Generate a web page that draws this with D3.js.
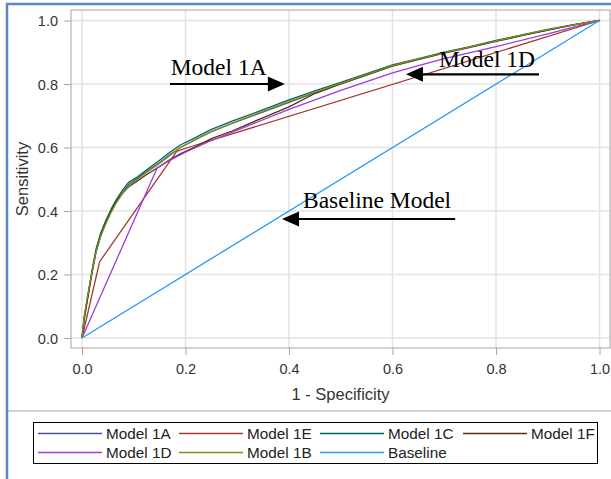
<!DOCTYPE html>
<html>
<head>
<meta charset="utf-8">
<script src="https://cdn.jsdelivr.net/npm/d3@7"></script>
<style>
  html, body { margin: 0; padding: 0; background: #ffffff; }
  svg { display: block; }
</style>
</head>
<body>
<svg id="chart" width="611" height="479"></svg>
<script>
// ROC curves: false positive rate (1 - specificity) vs sensitivity
const fpr = [0, 0.004, 0.011, 0.019, 0.027, 0.036, 0.046, 0.056, 0.066, 0.078, 0.09, 0.105, 0.125, 0.15, 0.17, 0.19, 0.22, 0.25, 0.29, 0.34, 0.4, 0.45, 0.5, 0.55, 0.6, 0.65, 0.7, 0.75, 0.8, 0.85, 0.9, 0.95, 1];
const tpr1A = [0, 0.055, 0.125, 0.2, 0.27, 0.325, 0.365, 0.4, 0.43, 0.458, 0.483, 0.5, 0.525, 0.553, 0.578, 0.6, 0.626, 0.65, 0.676, 0.706, 0.742, 0.772, 0.8, 0.828, 0.856, 0.877, 0.897, 0.915, 0.934, 0.952, 0.97, 0.986, 1];
const tpr1B = [0, 0.065, 0.135, 0.205, 0.27, 0.32, 0.36, 0.395, 0.425, 0.455, 0.478, 0.497, 0.522, 0.55, 0.575, 0.6, 0.625, 0.65, 0.677, 0.708, 0.745, 0.774, 0.802, 0.83, 0.858, 0.879, 0.899, 0.917, 0.936, 0.954, 0.971, 0.986, 1];
const tpr1C = [0, 0.06, 0.13, 0.21, 0.28, 0.33, 0.37, 0.405, 0.435, 0.465, 0.49, 0.505, 0.53, 0.56, 0.585, 0.608, 0.632, 0.657, 0.683, 0.713, 0.75, 0.778, 0.805, 0.833, 0.86, 0.88, 0.9, 0.918, 0.937, 0.955, 0.972, 0.987, 1];
const tpr1F = [0, 0.06, 0.128, 0.205, 0.272, 0.322, 0.362, 0.398, 0.428, 0.455, 0.476, 0.492, 0.515, 0.54, 0.562, 0.58, 0.603, 0.628, 0.652, 0.687, 0.728, 0.77, 0.8, 0.829, 0.857, 0.878, 0.898, 0.916, 0.935, 0.953, 0.97, 0.986, 1];

// Models with few cut points
const fpr1D = [0, 0.145, 0.17, 0.2, 0.25, 0.3, 0.4, 0.5, 0.6, 0.65, 0.7, 0.8, 0.9, 1];
const tpr1D = [0, 0.535, 0.56, 0.585, 0.622, 0.655, 0.72, 0.78, 0.835, 0.858, 0.88, 0.918, 0.958, 1];
const fpr1E = [0, 0.034, 0.183, 0.205, 1];
const tpr1E = [0, 0.24, 0.588, 0.6, 1];
const fprBase = [0, 1];
const tprBase = [0, 1];

const xTicks = [0, 0.2, 0.4, 0.6, 0.8, 1.0];
const yTicks = [0, 0.2, 0.4, 0.6, 0.8, 1.0];

// Series in draw / legend order
const seriesNames = ["Model 1A", "Model 1E", "Model 1C", "Model 1F", "Model 1D", "Model 1B", "Baseline"];
const seriesColors = ["#445694", "#A23A2E", "#01665E", "#543005", "#9D3CDB", "#7F8E1F", "#2597FA"];
const seriesX = [fpr, fpr1E, fpr, fpr, fpr1D, fpr, fprBase];
const seriesY = [tpr1A, tpr1E, tpr1C, tpr1F, tpr1D, tpr1B, tprBase];

// Callout labels (data units)
const noteText = ["Model 1A", "Model 1D", "Baseline Model"];
const noteTextPos = [[0.1714, 0.828], [0.690, 0.8545], [0.427, 0.4085]];
const noteArrowFrom = [[0.170, 0.800], [0.883, 0.8306], [0.721, 0.3748]];
const noteArrowTo = [[0.392, 0.800], [0.626, 0.8306], [0.3865, 0.3748]];

const svg = d3.select("#chart");
const sans = "'Liberation Sans', Arial, Helvetica, sans-serif";
const serif = "'Liberation Serif', 'Times New Roman', Times, serif";

const frame = { left: 71, top: 10, right: 610, bottom: 348 };
const x = d3.scaleLinear().domain([0, 1]).range([82, 599.5]);
const y = d3.scaleLinear().domain([0, 1]).range([338, 20.5]);

// outer border
svg.append("rect")
  .attr("x", 7).attr("y", 4).attr("width", 640).attr("height", 520)
  .attr("fill", "#ffffff").attr("stroke", "#5a87c5").attr("stroke-width", 2.5);

// gridlines
const grid = svg.append("g");
grid.selectAll("line.gx").data(xTicks).join("line")
  .attr("x1", d => x(d)).attr("x2", d => x(d))
  .attr("y1", frame.top).attr("y2", frame.bottom)
  .attr("stroke", "#e3e3e3").attr("stroke-width", 1.5);
grid.selectAll("line.gy").data(yTicks).join("line")
  .attr("y1", d => y(d)).attr("y2", d => y(d))
  .attr("x1", frame.left).attr("x2", frame.right)
  .attr("stroke", "#e3e3e3").attr("stroke-width", 1.5);

// plot frame
svg.append("rect")
  .attr("x", frame.left).attr("y", frame.top)
  .attr("width", frame.right - frame.left).attr("height", frame.bottom - frame.top)
  .attr("fill", "none").attr("stroke", "#a6a6a6").attr("stroke-width", 1);

// axes
const xAxis = d3.axisBottom(x).tickValues(xTicks).tickFormat(d3.format(".1f")).tickSize(7).tickSizeOuter(0);
const yAxis = d3.axisLeft(y).tickValues(yTicks).tickFormat(d3.format(".1f")).tickSize(7).tickSizeOuter(0);

const gx = svg.append("g").attr("transform", `translate(0,${frame.bottom})`).call(xAxis);
const gy = svg.append("g").attr("transform", `translate(${frame.left},0)`).call(yAxis);
[gx, gy].forEach(g => {
  g.select(".domain").remove();
  g.selectAll(".tick line").attr("stroke", "#a6a6a6");
  g.selectAll(".tick text").attr("fill", "#333").style("font-family", sans).style("font-size", "14.5px");
});
gx.selectAll(".tick text").attr("dy", null).attr("y", 26);
gy.selectAll(".tick text").attr("x", -13).attr("dy", "0.36em");

// axis titles
svg.append("text")
  .attr("x", (frame.left + frame.right) / 2).attr("y", 400)
  .attr("text-anchor", "middle").attr("fill", "#333")
  .style("font-family", sans).style("font-size", "16.5px")
  .text("1 - Specificity");
svg.append("text")
  .attr("transform", `translate(28,${(frame.top + frame.bottom) / 2}) rotate(-90)`)
  .attr("text-anchor", "middle").attr("fill", "#333")
  .style("font-family", sans).style("font-size", "16.5px")
  .text("Sensitivity");

// curves
const line = d3.line().x(d => x(d[0])).y(d => y(d[1]));
const curves = svg.append("g");
seriesNames.forEach((name, i) => {
  const pts = seriesX[i].map((v, k) => [v, seriesY[i][k]]);
  curves.append("path")
    .datum(pts)
    .attr("d", line)
    .attr("fill", "none")
    .attr("stroke", seriesColors[i])
    .attr("stroke-width", 1.3)
    .attr("stroke-linejoin", "round");
});

// callouts
const notes = svg.append("g");
noteText.forEach((t, i) => {
  notes.append("text")
    .attr("x", x(noteTextPos[i][0])).attr("y", y(noteTextPos[i][1]))
    .attr("fill", "#000")
    .style("font-family", serif).style("font-size", "23.5px")
    .text(t);
  const x0 = x(noteArrowFrom[i][0]), y0 = y(noteArrowFrom[i][1]);
  const x1 = x(noteArrowTo[i][0]), y1 = y(noteArrowTo[i][1]);
  const dir = x1 > x0 ? 1 : -1;
  const headLen = 17, headHalf = 7.5;
  notes.append("line")
    .attr("x1", x0).attr("y1", y0).attr("x2", x1 - dir * headLen * 0.5).attr("y2", y1)
    .attr("stroke", "#000").attr("stroke-width", 2.2);
  notes.append("path")
    .attr("d", `M${x1},${y1} L${x1 - dir * headLen},${y1 - headHalf} L${x1 - dir * headLen},${y1 + headHalf} Z`)
    .attr("fill", "#000");
});

// divider above legend
svg.append("line")
  .attr("x1", 8).attr("x2", 611).attr("y1", 411).attr("y2", 411)
  .attr("stroke", "#a6a6a6").attr("stroke-width", 1.2);

// legend
const legend = svg.append("g");
legend.append("rect")
  .attr("x", 33.5).attr("y", 422.5).attr("width", 564).attr("height", 41)
  .attr("fill", "#fff").attr("stroke", "#000").attr("stroke-width", 1);
const colX = [38, 179, 320, 463];
const rowY = [433.5, 452.5];
seriesNames.forEach((name, i) => {
  const cx = colX[i % 4], cy = rowY[Math.floor(i / 4)];
  legend.append("line")
    .attr("x1", cx).attr("x2", cx + 64).attr("y1", cy).attr("y2", cy)
    .attr("stroke", seriesColors[i]).attr("stroke-width", 1.5);
  legend.append("text")
    .attr("x", cx + 68).attr("y", cy + 5.3)
    .attr("fill", "#222")
    .style("font-family", sans).style("font-size", "15.3px")
    .text(name);
});
</script>
</body>
</html>
